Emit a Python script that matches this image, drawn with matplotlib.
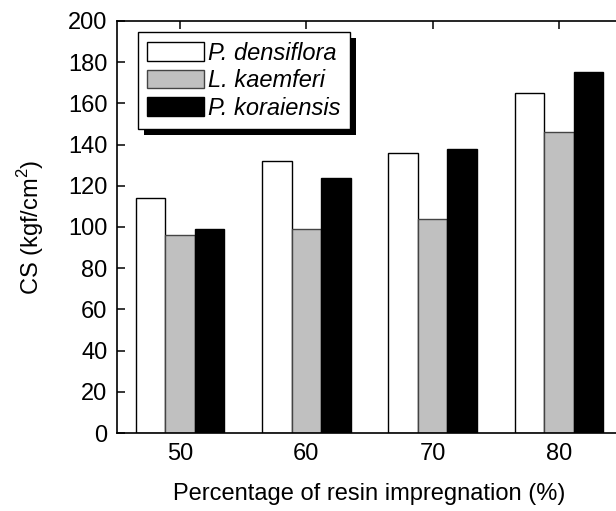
"""Compressive strength vs resin impregnation, grouped bars"""
import numpy as np
import matplotlib
matplotlib.use("Agg")
import matplotlib.pyplot as plt
from matplotlib.patches import Rectangle

plt.rcParams['font.family'] = ['Liberation Sans', 'DejaVu Sans']
plt.rcParams['mathtext.fontset'] = 'custom'
plt.rcParams['mathtext.rm'] = 'Liberation Sans'

impregnation = [50, 60, 70, 80]
species = ['P. densiflora', 'L. kaemferi', 'P. koraiensis']
densiflora = [114, 132, 136, 165]
kaemferi = [96, 99, 104, 146]
koraiensis = [99, 124, 138, 175]

FS = 17

fig = plt.figure(figsize=(6.16, 5.11), dpi=100)
ax = fig.add_axes([0.19, 0.1526, 0.8197, 0.8064])

x = np.array(impregnation, dtype=float)
width = 7 / 3
ax.bar(x - width, densiflora, width, color='white', edgecolor='black',
       linewidth=1, label=species[0], zorder=2)
ax.bar(x, kaemferi, width, color='#c0c0c0', edgecolor='#444444',
       linewidth=1, label=species[1], zorder=2)
ax.bar(x + width, koraiensis, width, color='black', edgecolor='black',
       linewidth=1, label=species[2], zorder=2)

ax.set_xlim(45, 85)
ax.set_ylim(0, 200)
ax.set_xticks(impregnation)
ax.set_yticks(range(0, 201, 20))
ax.tick_params(direction='in', length=5.5, width=1.1, labelsize=FS,
               top=True, right=False)
ax.tick_params(axis='x', pad=7)
ax.tick_params(axis='y', pad=7)
for s in ax.spines.values():
    s.set_linewidth(1.2)

ax.set_xlabel('Percentage of resin impregnation (%)', fontsize=FS,
              labelpad=13)
ax.set_ylabel('CS (kgf/cm$^2$)', fontsize=FS, labelpad=16)

leg = ax.legend(loc='upper left', bbox_to_anchor=(0.0416, 0.973),
                borderaxespad=0, fancybox=False, framealpha=1,
                edgecolor='black', handlelength=2.4, handleheight=0.85,
                handletextpad=0.15, labelspacing=0.2, borderpad=0.4,
                prop={'style': 'italic', 'size': 17})
leg.get_frame().set_linewidth(1.0)

# drop shadow under the legend box
fig.canvas.draw()
bb = leg.get_window_extent()
off = 6
shadow = Rectangle((bb.x0 + off, bb.y0 - off), bb.width, bb.height,
                   transform=None, facecolor='black', edgecolor='none',
                   zorder=leg.get_zorder() - 0.1, clip_on=False)
ax.add_patch(shadow)

fig.savefig('out.png', dpi=100)
